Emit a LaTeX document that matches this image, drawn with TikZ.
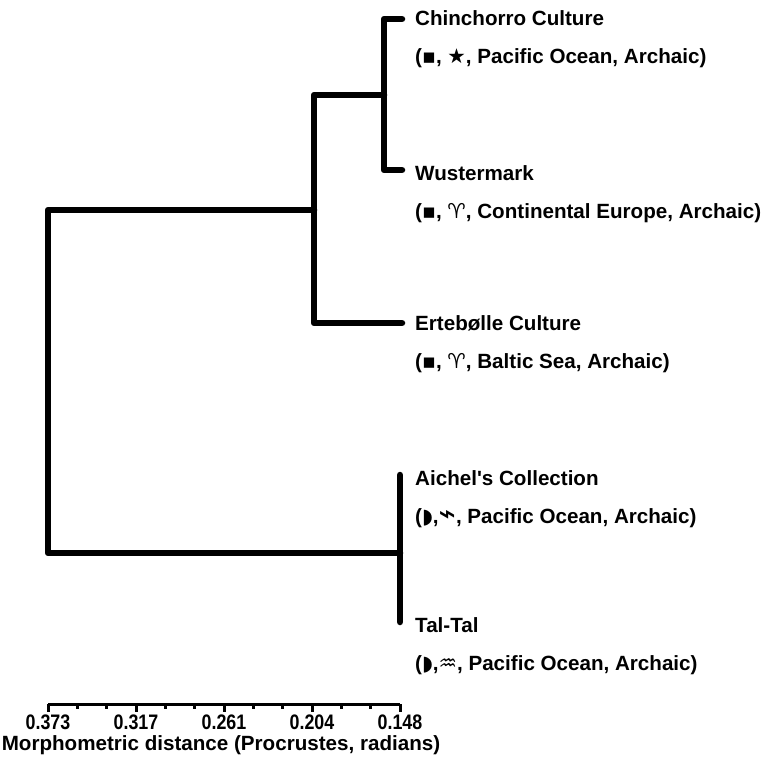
\documentclass[tikz,border=0pt]{standalone}
\usepackage{fontspec}
\newfontfamily\labfont{Liberation Sans}
\newfontfamily\symfont{DejaVu Sans}
\newfontfamily\tickfont[FakeStretch=0.85]{Liberation Sans}
\usetikzlibrary{positioning}
\newcommand{\sym}[1]{{\symfont\bfseries #1}}

\begin{document}
\begin{tikzpicture}[x=1pt, y=-1pt, node distance=40pt,
    branch/.style={line width=6.5pt, line join=round, line cap=round},
    axisline/.style={line width=3pt},
    taxon/.style={anchor=west, inner sep=0pt, font=\labfont\bfseries\fontsize{20.6}{24}\selectfont},
    ticklab/.style={inner sep=0pt, font=\tickfont\bfseries\fontsize{21}{24}\selectfont}]
  \useasboundingbox (0,0) rectangle (766,761);
  % Tips of the five branches
  \foreach \n/\x/\y in {chin/402/19, wust/402/170, erte/402/323, aich/400/475, tal/400/622}{
    \coordinate (\n) at (\x,\y);
  }
  % Internal nodes of the dendrogram
  \coordinate (c1) at (384,95);
  \coordinate (c2) at (314,210);
  \coordinate (c3) at (400,553);
  \coordinate (root) at (48,380);
  % Branches
  \draw[branch] (chin) -| (c1) |- (wust);
  \draw[branch] (c1) -| (c2) |- (erte);
  \draw[branch] (aich) -- (tal);
  \draw[branch] (c2) -| (root) |- (c3);
  % Names and attributes of the samples
  \foreach \n/\y/\name/\attr in {
      chin/18/Chinchorro Culture/{(\sym{▪}, \sym{★}, Pacific Ocean, Archaic)},
      wust/173/Wustermark/{(\sym{▪}, \sym{♈}, Continental Europe, Archaic)},
      erte/323/Ertebølle Culture/{(\sym{▪}, \sym{♈}, Baltic Sea, Archaic)},
      aich/478/Aichel's Collection/{(\sym{◗},\sym{\scalebox{1.4}{⌁}}, Pacific Ocean, Archaic)},
      tal/625/Tal-Tal/{(\sym{◗},\sym{♒}, Pacific Ocean, Archaic)}}{
    \node[taxon] (\n name) at (415,\y) {\name};
    \node[taxon, below=of \n name.west, anchor=west] (\n attr) {\attr};
  }
  % Distance axis
  \coordinate (ax0) at (48,704);
  \coordinate (ax1) at (400,704);
  \draw[axisline] (ax0) -- (ax1);
  \foreach \i in {0,...,12}{
    \draw[axisline] ({48+\i*29.333},704) -- ++(0,5);
  }
  \foreach \i/\v in {0/0.373, 3/0.317, 6/0.261, 9/0.204, 12/0.148}{
    \draw[axisline] ({48+\i*29.333},704) -- ++(0,8);
    \node[ticklab] (lab\i) at ({48+\i*29.333},722) {\v};
  }
  \node[taxon, anchor=center] (xtitle) at (221,745) {Morphometric distance (Procrustes, radians)};
\end{tikzpicture}
\end{document}
